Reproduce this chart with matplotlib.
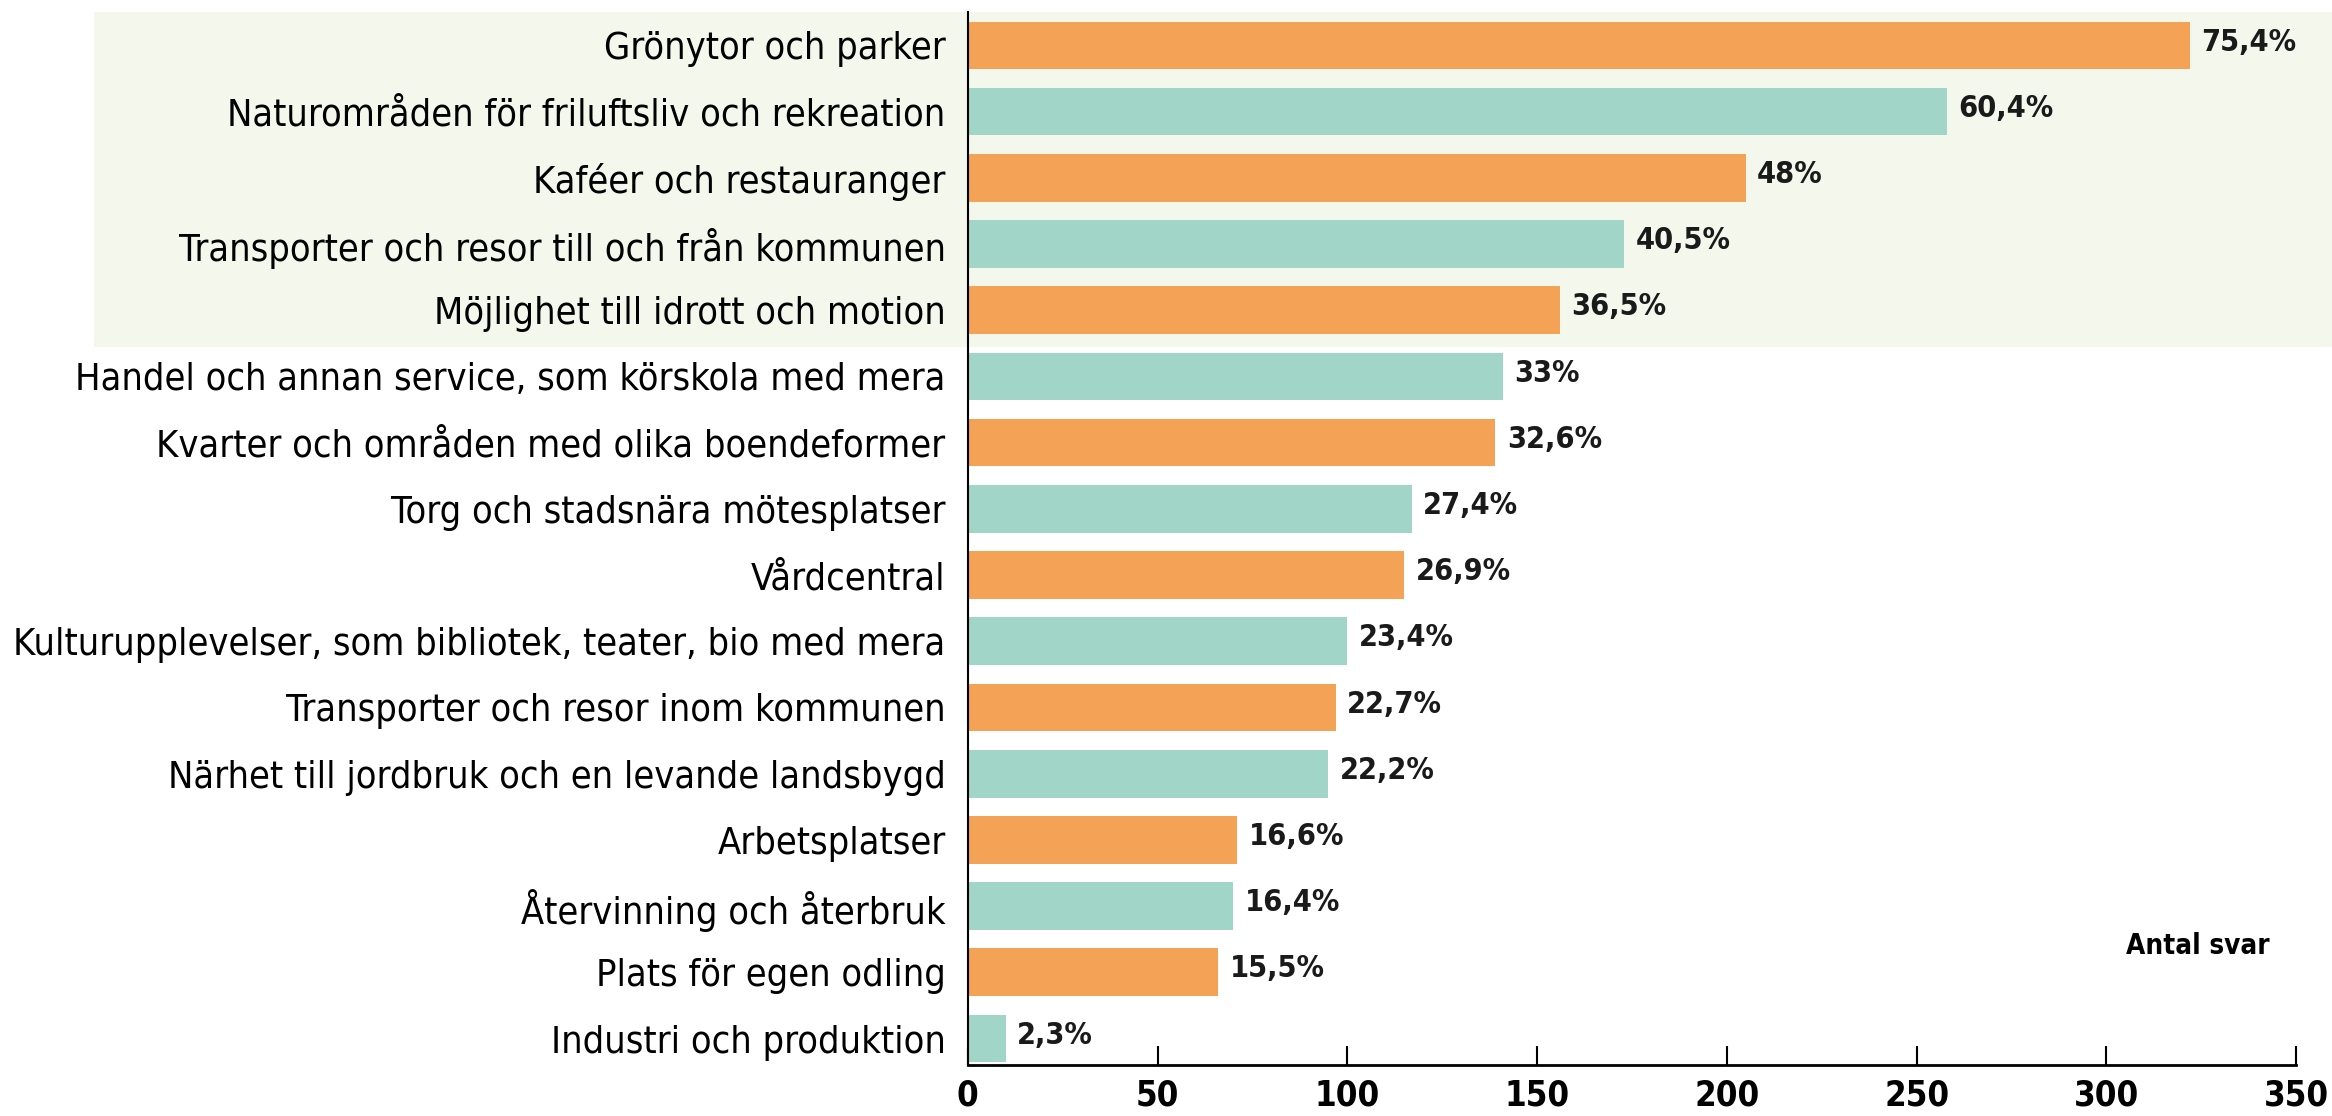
import matplotlib
matplotlib.use('Agg')
import matplotlib.pyplot as plt
import matplotlib.transforms as mtransforms
from matplotlib.patches import Rectangle
from matplotlib import font_manager

# Data
categories = [
    'Grönytor och parker',
    'Naturområden för friluftsliv och rekreation',
    'Kaféer och restauranger',
    'Transporter och resor till och från kommunen',
    'Möjlighet till idrott och motion',
    'Handel och annan service, som körskola med mera',
    'Kvarter och områden med olika boendeformer',
    'Torg och stadsnära mötesplatser',
    'Vårdcentral',
    'Kulturupplevelser, som bibliotek, teater, bio med mera',
    'Transporter och resor inom kommunen',
    'Närhet till jordbruk och en levande landsbygd',
    'Arbetsplatser',
    'Återvinning och återbruk',
    'Plats för egen odling',
    'Industri och produktion',
]
counts = [322, 258, 205, 173, 156, 141, 139, 117, 115, 100, 97, 95, 71, 70, 66, 10]
percents = [75.4, 60.4, 48, 40.5, 36.5, 33, 32.6, 27.4, 26.9, 23.4, 22.7, 22.2, 16.6, 16.4, 15.5, 2.3]
x_ticks = [0, 50, 100, 150, 200, 250, 300, 350]
n_highlight = 5

orange = '#f4a356'
teal = '#a0d5c8'
bg_green = '#f3f7ec'

# a condensed face would be closer to the original; use it if it is installed
has_cond = any(f.name == 'DejaVu Sans' and f.stretch in ('condensed', 600, 'semi-condensed')
               for f in font_manager.fontManager.ttflist)
plt.rcParams['font.family'] = ['DejaVu Sans']
if has_cond:
    plt.rcParams['font.stretch'] = 'condensed'
    cat_size, val_size, tick_size = 27.2, 22, 25
else:
    cat_size, val_size, tick_size = 24, 20, 23

fig = plt.figure(figsize=(23.32, 11.16), dpi=100)
ax = fig.add_axes([0.415, 0.0457, 0.5696, 0.9433])

y = list(range(len(categories)))
colors = [orange if i % 2 == 0 else teal for i in y]
ax.barh(y, counts, height=0.72, color=colors, zorder=2)

# highlighted block behind the top rows
trans = mtransforms.blended_transform_factory(ax.transAxes, ax.transData)
ax.add_patch(Rectangle((-0.658, -0.5), 1.7, n_highlight + 0.06, transform=trans,
                       facecolor=bg_green, edgecolor='none', clip_on=False, zorder=0))

for yi, c, p in zip(y, counts, percents):
    lab = f'{p:g}'.replace('.', ',') + '%'
    ax.text(c + 3, yi - 0.05, lab, va='center', ha='left', fontsize=val_size,
            fontweight='semibold', color='#1a1a1a', zorder=3)

ax.set_ylim(15.4, -0.5)
ax.set_xlim(0, 350)
ax.set_yticks(y)
ax.set_yticklabels(categories, fontsize=cat_size)
ax.tick_params(axis='y', length=0, pad=16)
ax.set_xticks(x_ticks)
ax.set_xticklabels([str(t) for t in x_ticks], fontsize=tick_size, fontweight='bold')
ax.tick_params(axis='x', direction='in', length=14, width=1.5, pad=10)

for s in ['top', 'right']:
    ax.spines[s].set_visible(False)
ax.spines['left'].set_linewidth(1.5)
ax.spines['bottom'].set_linewidth(2)
ax.patch.set_visible(False)

ax.text(324, 13.6, 'Antal svar', ha='center', va='center', fontsize=20, fontweight='bold')

fig.savefig('out.png', dpi=100)
